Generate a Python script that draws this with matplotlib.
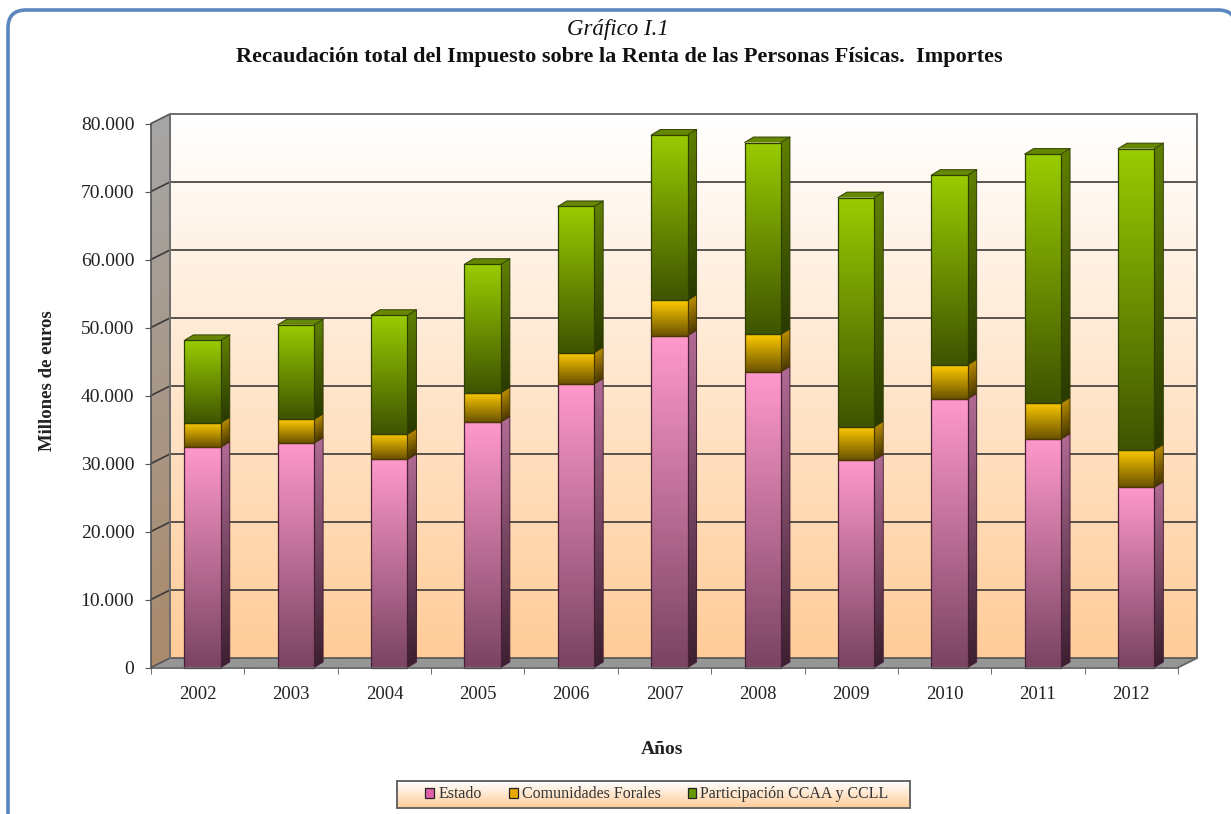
import numpy as np
import matplotlib
matplotlib.use("Agg")
import matplotlib.pyplot as plt
from matplotlib.patches import FancyBboxPatch, Patch, Rectangle
from matplotlib.lines import Line2D
from matplotlib.path import Path
from matplotlib.transforms import Affine2D, IdentityTransform

years = ["2002","2003","2004","2005","2006","2007","2008","2009","2010","2011","2012"]
estado = [32400,33000,30600,36100,41700,48800,43500,30500,39500,33600,26500]
forales = [3600,3500,3700,4300,4600,5200,5500,4900,5000,5300,5500]
participacion = [12100,13900,17500,18900,21500,24300,28200,33700,27900,36600,44300]
y_ticks = [0,10000,20000,30000,40000,50000,60000,70000,80000]
y_labels = ["0","10.000","20.000","30.000","40.000","50.000","60.000","70.000","80.000"]
series_names = ["Estado","Comunidades Forales","Participación CCAA y CCLL"]

W, H = 1231, 814
plt.rcParams['font.family'] = ['Liberation Serif', 'DejaVu Serif']
fig = plt.figure(figsize=(W/100, H/100), dpi=100, facecolor='white')
ax = fig.add_axes([151/W, (H-667.5)/H, (1178-151)/W, 544/H])
ax.set_xlim(-0.5, 10.5); ax.set_ylim(0, 80000)
ax.set_autoscale_on(False)
ax.patch.set_visible(False)

def rgb(c):
    return np.array(matplotlib.colors.to_rgb(c))

def quad(p, ex, ey, bottom, top, z):
    """Vertical gradient on a parallelogram given in display pixels."""
    t = np.linspace(0, 1, 128)[:, None, None]
    arr = rgb(bottom)[None, None, :]*(1-t) + rgb(top)[None, None, :]*t
    tr = Affine2D.from_values(ex[0], ex[1], ey[0], ey[1], p[0], p[1])
    im = ax.imshow(arr, extent=(0, 1, 0, 1), origin='lower', aspect='auto',
                   interpolation='bilinear', transform=tr, zorder=z)
    p = np.asarray(p, float); ex = np.asarray(ex, float); ey = np.asarray(ey, float)
    im.set_clip_box(fig.bbox)
    im.set_clip_path(Path([p, p+ex, p+ex+ey, p+ey, p], closed=True), IdentityTransform())
    return im

def line(pts, color, lw, z):
    xs, ys = zip(*pts)
    ax.add_line(Line2D(xs, ys, color=color, lw=lw, transform=IdentityTransform(),
                       zorder=z, clip_on=False, solid_capstyle='round'))

DEPTH = (19, 9.5)
D = lambda v: ax.transData.transform(v)

# outer frame
fig.add_artist(FancyBboxPatch((8/W, -40/H), (1236-8)/W, (H-10+40)/H,
               boxstyle="round,pad=0,rounding_size=0.0146", transform=fig.transFigure,
               mutation_aspect=W/H, fc='white', ec='#5b87c0', lw=2.6, zorder=-5))

# walls and floor
p0 = D((-0.5, 0)); p1 = D((10.5, 0)); pt = D((-0.5, 80000))
w = p1[0]-p0[0]; h = pt[1]-p0[1]
quad((p0[0]+DEPTH[0], p0[1]+DEPTH[1]), (w, 0), (0, h), '#ffcc99', '#ffffff', 1)
quad(p0, DEPTH, (0, h), '#aa8a6b', '#a6a6a6', 1)
quad(p0, (w, 0), DEPTH, '#969696', '#969696', 1)

# gridlines
for v in y_ticks:
    a = D((-0.5, v)); b = a+np.array(DEPTH); c = D((10.5, v))+np.array(DEPTH)
    col = '#555555' if v in (0, 80000) else '#3c3a38'
    line([a, b, c], col, 1.2, 2)
a = D((-0.5, 0))+np.array(DEPTH); b = D((-0.5, 80000))+np.array(DEPTH)
line([a, b], '#6e6e6e', 1.4, 2)
a = D((10.5, 0)); b = a+np.array(DEPTH); c = D((10.5, 80000))+np.array(DEPTH)
line([a, b, c], '#666666', 1.4, 2)

# bars
x = np.arange(len(years))
OFF = 0.052; BW = 0.39
DX, DY = 9, 5.5
styles = [
    dict(front=('#7a4462', '#ff99cc'), side=('#3c2030', '#b06a94'), edge='#4a2038'),
    dict(front=('#6b5200', '#ffcc00'), side=('#4a3800', '#b88c00'), edge='#4a3800'),
    dict(front=('#3f5400', '#99cc00'), side=('#2a3a00', '#5f7f00'), edge='#2f3f00'),
]
bottoms = np.zeros(len(years))
for k, vals in enumerate([estado, forales, participacion]):
    st = styles[k]
    bars = ax.bar(x+OFF, vals, BW, bottom=bottoms, fill=False, edgecolor=st['edge'],
                  linewidth=0.9, zorder=6)
    for r in bars:
        r.set_clip_on(False)
        a = D((r.get_x(), r.get_y()))
        b = D((r.get_x()+r.get_width(), r.get_y()+r.get_height()))
        fw, fh = b[0]-a[0], b[1]-a[1]
        quad(a, (fw, 0), (0, fh), st['front'][0], st['front'][1], 4)
        quad((b[0], a[1]), (DX, DY), (0, fh), st['side'][0], st['side'][1], 4)
        line([(b[0], a[1]), (b[0]+DX, a[1]+DY), (b[0]+DX, b[1]+DY), (b[0], b[1])],
             st['edge'], 0.7, 5)
        if k == 2:
            quad((a[0], b[1]), (fw, 0), (DX, DY), '#668800', '#668800', 4)
            line([(a[0], b[1]), (a[0]+DX, b[1]+DY), (b[0]+DX, b[1]+DY)],
                 st['edge'], 0.7, 5)
    bottoms = bottoms + np.array(vals)

# axes furniture
for s in ('top', 'right'):
    ax.spines[s].set_visible(False)
for s in ('left', 'bottom'):
    ax.spines[s].set_color('#555555'); ax.spines[s].set_linewidth(1.2); ax.spines[s].set_zorder(7)
ax.set_yticks(y_ticks, y_labels)
ax.set_xticks(x, years)
ax.set_xticks(np.arange(12)-0.5, minor=True)
ax.tick_params(axis='x', which='major', length=0, pad=13, labelsize=13.5, labelcolor='#222222')
ax.tick_params(axis='x', which='minor', length=4, color='#555555')
ax.tick_params(axis='y', length=4, color='#555555', pad=8, labelsize=14, labelcolor='#222222')

# texts
fig.text(618/W, 1-30/H, "Gráfico I.1", ha='center', va='center', fontsize=16.5, style='italic', color='#111111')
fig.text(619/W, 1-57/H, "Recaudación total del Impuesto sobre la Renta de las Personas Físicas.  Importes",
         ha='center', va='center', fontsize=16, fontweight='bold', color='#111111')
fig.text(48/W, 1-381/H, "Millones de euros", rotation=90, ha='center', va='center',
         fontsize=13.5, fontweight='bold', color='#222222')
fig.text(662/W, 1-750/H, "Años", ha='center', va='center', fontsize=14, fontweight='bold', color='#222222')

# legend
lx0, lx1, ly0, ly1 = 397, 910, H-808, H-781
quad((lx0, ly0), (lx1-lx0, 0), (0, ly1-ly0), '#ffcc99', '#ffffff', 8)
ax.add_patch(Rectangle((lx0, ly0), lx1-lx0, ly1-ly0, fill=False, ec='#666666', lw=1.4,
                       transform=IdentityTransform(), zorder=9, clip_on=False))
handles = [Patch(fc=c, ec='#222222', lw=0.9) for c in ('#e060a8', '#e8a800', '#669900')]
leg = fig.legend(handles, series_names, ncol=3, loc='center', frameon=False,
                 bbox_to_anchor=((lx0+3.5)/W, ly0/H, (lx1-lx0)/W, (ly1-ly0)/H),
                 fontsize=11.5, handlelength=0.55, handleheight=0.55, handletextpad=0.25,
                 columnspacing=1.7, labelcolor='#333333')
leg.set_zorder(10)

fig.savefig("out.png", dpi=100, facecolor='white')
